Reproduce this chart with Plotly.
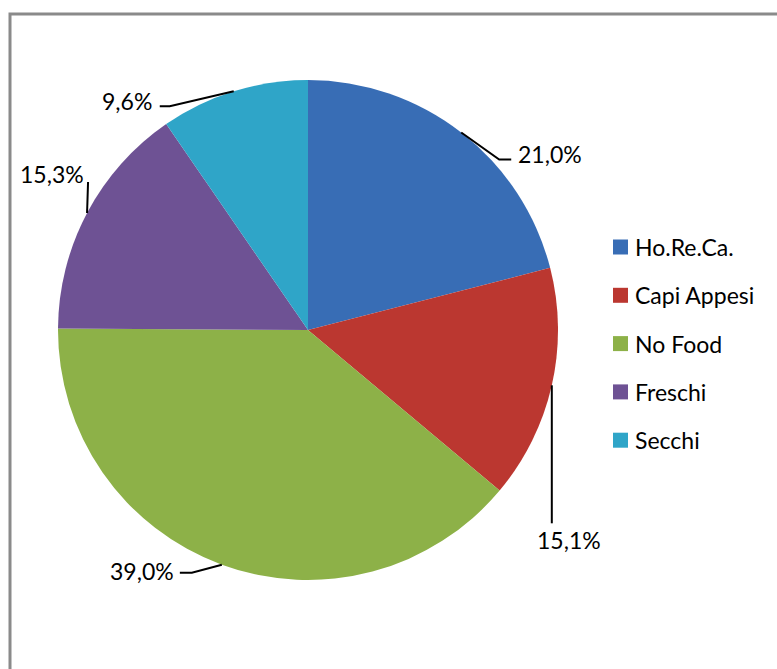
import math
import plotly.graph_objects as go

# Share of each channel (percent)
categories = ["Ho.Re.Ca.", "Capi Appesi", "No Food", "Freschi", "Secchi"]
shares = [21.0, 15.1, 39.0, 15.3, 9.6]
label_texts = ["21,0%", "15,1%", "39,0%", "15,3%", "9,6%"]

colors = ["#386db5", "#bb3730", "#8db148", "#6e5294", "#2fa5c8"]

W, H = 777, 669
CX, CY, R = 308, 330, 250  # pie centre and radius in pixels
FONT = dict(family="Lato, Open Sans, sans-serif", size=23, color="black")


def px(x):
    return x / W


def py(y):
    return 1 - y / H


fig = go.Figure(
    go.Pie(
        labels=categories,
        values=shares,
        sort=False,
        direction="clockwise",
        rotation=0,
        marker=dict(colors=colors, line=dict(width=0)),
        textinfo="none",
        hoverinfo="label+percent",
        showlegend=False,
        domain=dict(x=[px(CX - R), px(CX + R)], y=[py(CY + R), py(CY - R)]),
    )
)

# Leader-line geometry per slice: elbow offset and text offset relative to the rim point
leader = [
    dict(elbow=(38, 27), tail=(50, 27), text=(55, 22), anchor="left"),
    dict(elbow=(0, 138), tail=(0, 138), text=(17, 155), anchor="center"),
    dict(elbow=(-30, 8), tail=(-42, 8), text=(-46, 6), anchor="right"),
    dict(elbow=(1, -31), tail=(1, -31), text=(-35, -39), anchor="center"),
    dict(elbow=(-64, 15), tail=(-74, 15), text=(-80, 10), anchor="right"),
]

shapes = []
annotations = []
total = sum(shares)
cum = 0.0
for val, txt, ld in zip(shares, label_texts, leader):
    mid = (cum + val / 2) / total * 2 * math.pi  # clockwise from 12 o'clock
    cum += val
    x0 = CX + R * math.sin(mid)
    y0 = CY - R * math.cos(mid)
    ex, ey = x0 + ld["elbow"][0], y0 + ld["elbow"][1]
    tx, ty = x0 + ld["tail"][0], y0 + ld["tail"][1]
    path = f"M{px(x0)},{py(y0)} L{px(ex)},{py(ey)} L{px(tx)},{py(ty)}"
    shapes.append(dict(type="path", xref="paper", yref="paper", path=path,
                       line=dict(color="black", width=2)))
    annotations.append(dict(
        x=px(x0 + ld["text"][0]), y=py(y0 + ld["text"][1]),
        xref="paper", yref="paper", text=txt, showarrow=False,
        xanchor=ld["anchor"], yanchor="middle", font=FONT,
    ))

# Legend drawn as swatches with text
LEG_X, LEG_Y0, LEG_DY, SW = 613, 247, 48.3, 15
for i, (cat, col) in enumerate(zip(categories, colors)):
    yc = LEG_Y0 + i * LEG_DY
    shapes.append(dict(type="rect", xref="paper", yref="paper",
                       x0=px(LEG_X), x1=px(LEG_X + SW),
                       y0=py(yc + SW / 2), y1=py(yc - SW / 2),
                       fillcolor=col, line=dict(width=0)))
    annotations.append(dict(
        x=px(LEG_X + SW + 5), y=py(yc), xref="paper", yref="paper",
        text=cat, showarrow=False, xanchor="left", yanchor="middle", font=FONT,
    ))

# Chart frame
shapes.append(dict(type="rect", xref="paper", yref="paper",
                   x0=px(10), y0=py(14), x1=px(W + 20), y1=py(H + 20),
                   line=dict(color="#8a8a8a", width=3)))

fig.update_layout(
    width=W, height=H,
    margin=dict(l=0, r=0, t=0, b=0),
    paper_bgcolor="white", plot_bgcolor="white",
    shapes=shapes, annotations=annotations,
)

fig.write_html("out.html")
